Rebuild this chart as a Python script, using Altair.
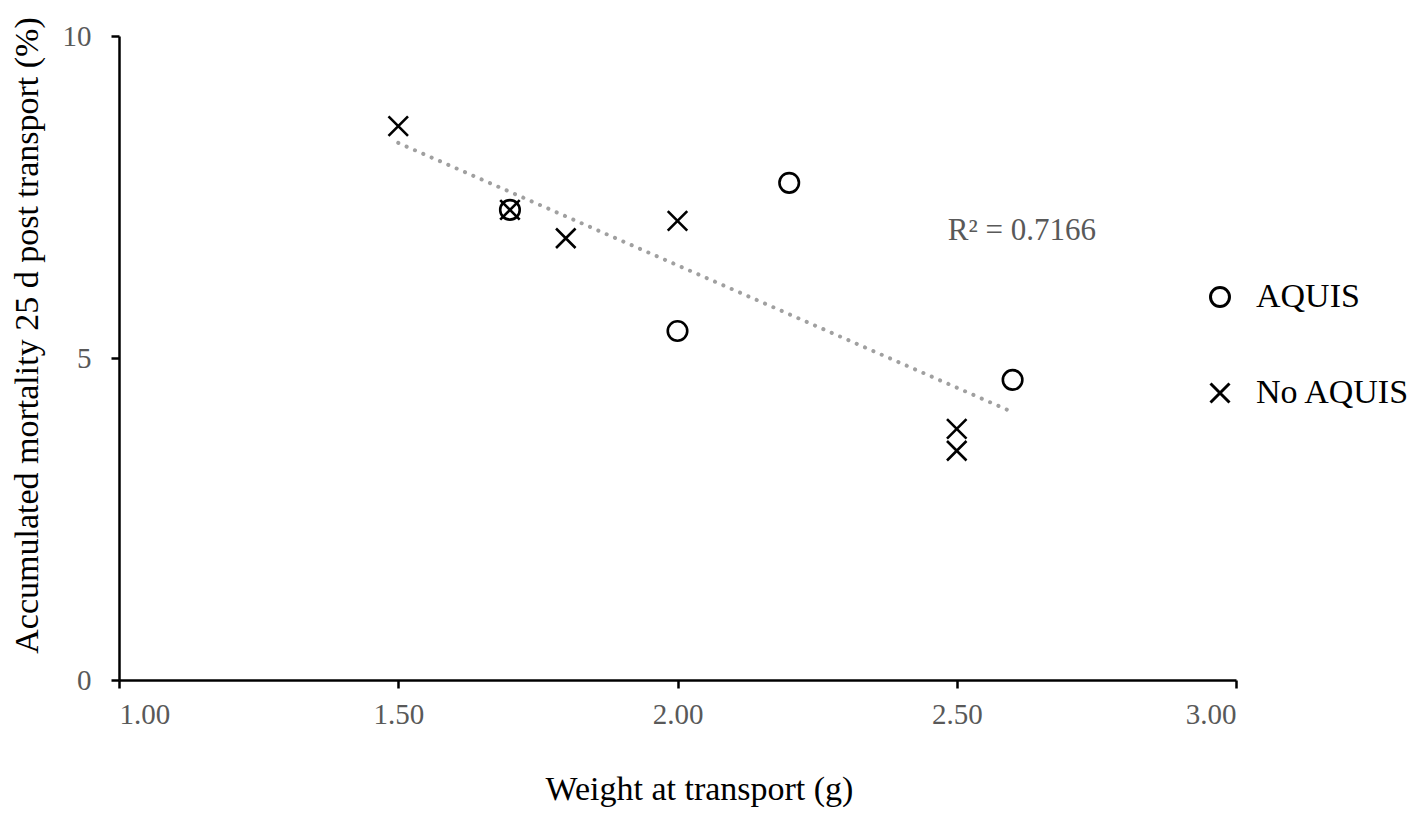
import altair as alt
import pandas as pd

# Data
aquis_x = [1.70, 2.00, 2.20, 2.60]
aquis_y = [7.30, 5.42, 7.72, 4.66]
noaquis_x = [1.50, 1.70, 1.80, 2.00, 2.50, 2.50]
noaquis_y = [8.60, 7.30, 6.86, 7.13, 3.90, 3.56]
trend_x = [1.50, 2.60]
trend_y = [8.34, 4.16]
r2_label = ["R\u00b2 = 0.7166"]
r2_pos = [2.484, 6.97]

groups = ["AQUIS", "No AQUIS"]
pts = pd.DataFrame(
    {
        "x": aquis_x + noaquis_x,
        "y": aquis_y + noaquis_y,
        "g": [groups[0]] * len(aquis_x) + [groups[1]] * len(noaquis_x),
    }
)
trend = pd.DataFrame({"x": trend_x, "y": trend_y})
r2 = pd.DataFrame({"x": [r2_pos[0]], "y": [r2_pos[1]], "t": r2_label})

FONT = "Liberation Serif"
CROSS = "M-1,-1L1,1M-1,1L1,-1"

xs = alt.Scale(domain=[1, 3], nice=False, zero=False)
ys = alt.Scale(domain=[0, 10], nice=False)

xaxis = alt.Axis(
    values=[1.0, 1.5, 2.0, 2.5, 3.0], format=".2f", grid=False,
    title="Weight at transport (g)", titleX=580, titleY=119,
    titleBaseline="alphabetic", titleFontSize=34, titleFont=FONT,
    titleFontWeight="normal", titleColor="#000000",
    labelFont=FONT, labelFontSize=29, labelColor="#595959", labelPadding=12,
    domainColor="#000000", domainWidth=2.5, tickColor="#000000",
    tickWidth=2.5, tickSize=8,
)
yaxis = alt.Axis(
    values=[0, 5, 10], format="d", grid=False,
    title="Accumulated mortality 25 d post transport (%)", titleX=-75, titleY=299,
    titleFontSize=34, titleFont=FONT, titleFontWeight="normal",
    titleColor="#000000",
    labelFont=FONT, labelFontSize=29, labelColor="#595959", labelPadding=20,
    domainColor="#000000", domainWidth=2.5, tickColor="#000000",
    tickWidth=2.5, tickSize=8,
)

line = alt.Chart(trend).mark_line(
    color="#a0a0a0", strokeWidth=4, strokeDash=[0.1, 9], strokeCap="round"
).encode(x=alt.X("x:Q", scale=xs, axis=xaxis), y=alt.Y("y:Q", scale=ys, axis=yaxis))

points = alt.Chart(pts).mark_point(
    filled=False, size=380, strokeWidth=2.6, color="#000000", opacity=1
).encode(
    x=alt.X("x:Q", scale=xs),
    y=alt.Y("y:Q", scale=ys),
    shape=alt.Shape(
        "g:N",
        scale=alt.Scale(domain=groups, range=["circle", CROSS]),
        legend=alt.Legend(
            title=None, orient="none", legendX=1084, legendY=244,
            labelFont=FONT, labelFontSize=34, labelColor="#000000",
            labelOffset=19, rowPadding=62, symbolSize=360,
            symbolStrokeWidth=3, symbolStrokeColor="#000000", padding=0,
        ),
    ),
)

text = alt.Chart(r2).mark_text(
    align="left", baseline="middle", font=FONT, fontSize=31, color="#595959"
).encode(x=alt.X("x:Q", scale=xs), y=alt.Y("y:Q", scale=ys), text="t:N")

chart = (
    alt.layer(line, points, text)
    .properties(
        width=1117, height=644,
        autosize=alt.AutoSizeParams(type="none"),
        padding={"left": 111, "top": 28, "right": 172, "bottom": 132},
        background="#ffffff",
    )
    .configure_view(stroke=None)
)

chart.save("out.html", embed_options={"renderer": "svg", "actions": False})
